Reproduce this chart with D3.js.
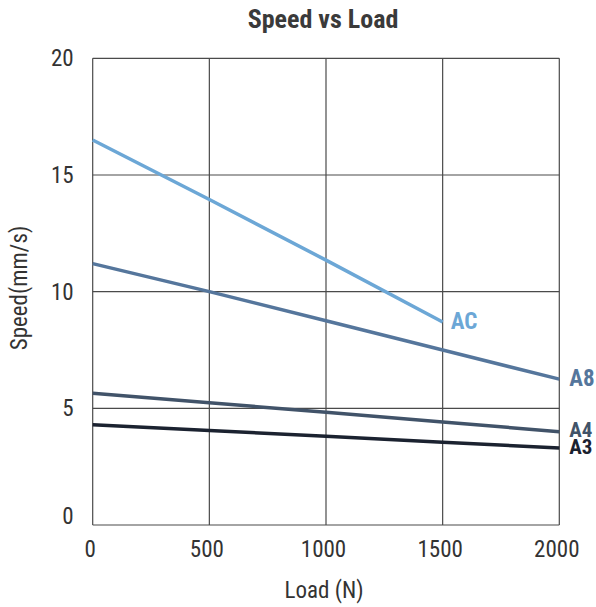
<!DOCTYPE html>
<html><head><meta charset="utf-8">
<script src="https://cdn.jsdelivr.net/npm/d3@7"></script>
<style>
html,body{margin:0;padding:0;background:#fff;}
text{font-family:"Liberation Sans Narrow","Roboto Condensed","DejaVu Sans Condensed",Arial,sans-serif;}
</style></head>
<body>
<svg id="chart" width="596" height="607"></svg>
<script>
const loads = [0, 500, 1000, 1500, 2000];
const acSpeed = [16.5, 13.95, 11.35, 8.7];
const a8Speed = [11.2, 10.0, 8.75, 7.5, 6.25];
const a4Speed = [5.65, 5.24, 4.83, 4.41, 4.0];
const a3Speed = [4.3, 4.05, 3.8, 3.55, 3.3];
const seriesNames = ["AC", "A8", "A4", "A3"];
const seriesColors = ["#6ca7d6", "#55769c", "#415369", "#1b2230"];
const xTicks = [0, 500, 1000, 1500, 2000];
const yTicks = [0, 5, 10, 15, 20];

const series = [acSpeed, a8Speed, a4Speed, a3Speed].map((vals, i) => ({
  name: seriesNames[i], color: seriesColors[i],
  pts: vals.map((v, j) => [loads[j], v])
}));

const svg = d3.select("#chart");
const L = 92.7, R = 559.3, T = 58.3, B = 525;
const x = d3.scaleLinear().domain([0, 2000]).range([L, R]);
const y = d3.scaleLinear().domain([0, 20]).range([B, T]);

// grid
const g = svg.append("g");
g.selectAll("line.v").data(xTicks).join("line")
  .attr("x1", d => x(d)).attr("x2", d => x(d)).attr("y1", T).attr("y2", B)
  .attr("stroke", "#4a4a4a").attr("stroke-width", 1.2);
g.selectAll("line.h").data(yTicks).join("line")
  .attr("y1", d => y(d)).attr("y2", d => y(d)).attr("x1", L).attr("x2", R)
  .attr("stroke", "#4a4a4a").attr("stroke-width", 1.2);

// axes labels via d3 axes
const xAxis = svg.append("g").attr("transform", `translate(-3,${B})`)
  .call(d3.axisBottom(x).tickValues(xTicks).tickSize(0).tickPadding(16).tickFormat(d3.format("d")));
xAxis.select(".domain").remove();
xAxis.selectAll("text").attr("font-size", 23).attr("fill", "#333")
  .style("font-family", '"Liberation Sans Narrow","Roboto Condensed",Arial,sans-serif');

const yAxis = svg.append("g").attr("transform", `translate(${L - 19},0)`)
  .call(d3.axisLeft(y).tickValues(yTicks).tickSize(0).tickPadding(0));
yAxis.select(".domain").remove();
yAxis.selectAll("text").attr("font-size", 23).attr("fill", "#333")
  .style("font-family", '"Liberation Sans Narrow","Roboto Condensed",Arial,sans-serif')
  .attr("dy", d => d === 0 ? "-0.05em" : "0.32em");

// lines
const line = d3.line().x(d => x(d[0])).y(d => y(d[1]));
svg.append("g").selectAll("path").data(series).join("path")
  .attr("d", d => line(d.pts)).attr("fill", "none")
  .attr("stroke", d => d.color).attr("stroke-width", 3.5);

// series labels (baseline offsets from line end)
const labelOffsets = {AC: [8, 7.5], A8: [10, 7], A4: [10, 5], A3: [10, 6]};
svg.append("g").selectAll("text").data(series).join("text")
  .attr("x", d => x(d.pts[d.pts.length - 1][0]) + labelOffsets[d.name][0])
  .attr("y", d => y(d.pts[d.pts.length - 1][1]) + labelOffsets[d.name][1])
  .attr("font-size", d => (d.name === "A3" || d.name === "A4") ? 21 : 23)
  .attr("font-weight", "bold")
  .attr("fill", d => d.color).text(d => d.name);

// title
svg.append("text").attr("x", 323).attr("y", 28).attr("text-anchor", "middle")
  .attr("font-size", 26).attr("font-weight", "bold").attr("fill", "#3a3a3a")
  .text("Speed vs Load");

// axis titles
svg.append("text").attr("x", 324).attr("y", 598).attr("text-anchor", "middle")
  .attr("font-size", 23).attr("fill", "#333").text("Load (N)");
svg.append("text").attr("transform", "translate(27,288) rotate(-90)")
  .attr("text-anchor", "middle").attr("font-size", 23).attr("fill", "#333")
  .text("Speed(mm/s)");
</script>
</body></html>
